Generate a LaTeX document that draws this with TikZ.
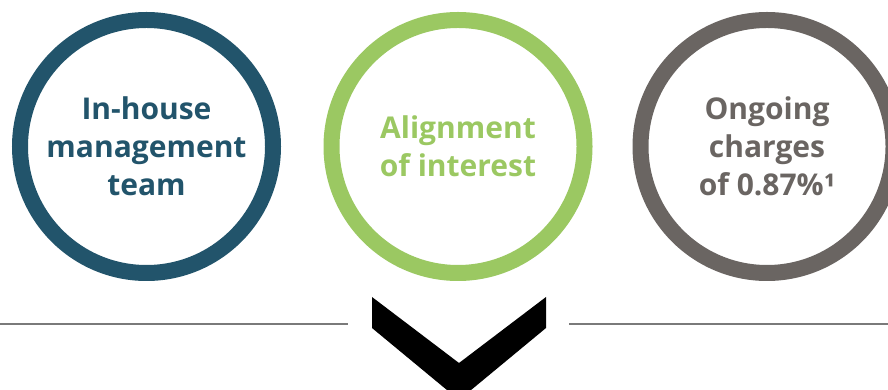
\documentclass[tikz,border=0pt]{standalone}
\usepackage{fontspec}
\setmainfont{Open Sans}
\definecolor{cblue}{HTML}{22546B}
\definecolor{cgreen}{HTML}{9BC862}
\definecolor{cgrey}{HTML}{6A6562}
\definecolor{cline}{HTML}{7A7A7A}
\begin{document}
\begin{tikzpicture}[x=1pt,y=1pt,
  ring/.style={circle, draw=#1, line width=16pt, minimum size=253pt, inner sep=0pt,
    text=#1, align=center, font=\fontsize{30}{38}\selectfont\bfseries},
  rule/.style={draw=cline, line width=1.5pt}]
\clip (0,0) rectangle (888,390);
\useasboundingbox (0,0) rectangle (888,390);
\node[ring=cblue] (c1) at (146.5,243.5) {In-house\\management\\team};
\node[ring=cgreen] (c2) at (458,243.5) {Alignment\\of interest};
\node[ring=cgrey] (c3) at (767,243.5) {Ongoing\\charges\\of 0.87\%¹};
\coordinate (l1) at (0,66);
\coordinate (l2) at (348,66);
\coordinate (r1) at (569,66);
\coordinate (r2) at (888,66);
\draw[rule] (l1) -- (l2);
\draw[rule] (r1) -- (r2);
\fill[black] (372,93) -- (459,27) -- (546,93) -- (546,62) -- (459,-10) -- (372,62) -- cycle;
\end{tikzpicture}
\end{document}
